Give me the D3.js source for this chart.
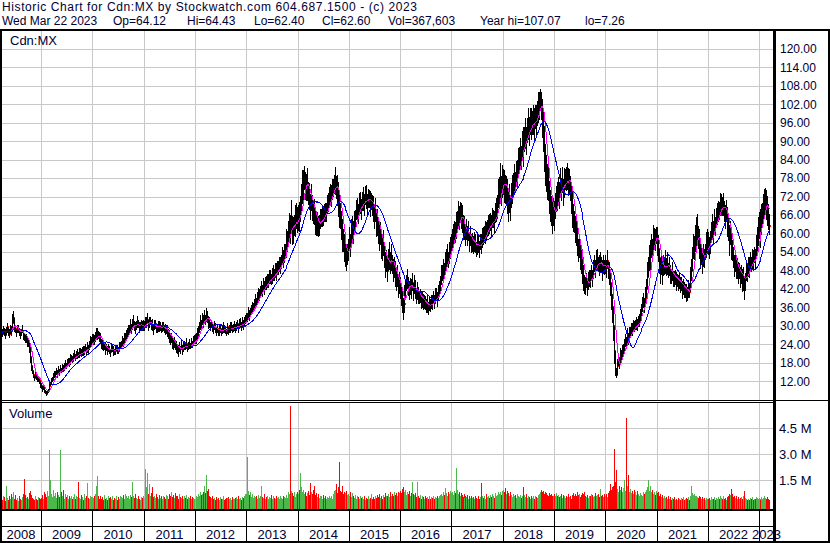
<!DOCTYPE html>
<html>
<head>
<meta charset="utf-8">
<script src="https://cdn.jsdelivr.net/npm/d3@7"></script>
<style>
  body { margin: 0; background: #fff; }
  svg { display: block; }
  text { font-family: "Liberation Sans", Arial, sans-serif; fill: #000033; }
</style>
</head>
<body>
<svg id="chart" width="830" height="543"></svg>
<script>
// weekly closes, first week ends Fri Mar 28 2008
const closes = [
  // 2008
  28.5,27.5,29,28,27,28.5,29.5,28,27.5,29,28.5,31,32.5,30,29,28,28.5,29,28,27.5,28,28.5,27,26.5,25.5,26,24.5,25,23,20,17,15.5,14,13,14.5,13.5,12.5,13,12,11,
  // 2009
  10.5,9.5,10,9,8.5,8,8.5,9,9.5,10.5,11,12,12.5,13.5,14,14.5,15,14.5,15.5,15,16,15.5,16.5,16,17,17.5,17,18,18.5,18,19,19.5,19,20,20.5,20,20.5,21,20.5,21,21.5,21,22,21.5,22,22.5,22,23,22.5,23.5,24.5,25,
  // 2010
  25.5,26,25,26.5,27,27.5,27,26.5,25.5,24.5,24,23,23.5,22.5,23,22,22.5,23,22,21.5,22.5,23,22,21.5,22,23,22.5,22,23,23.5,24,25,24.5,25.5,26.5,27,27.5,28.5,29,30,29.5,30.5,31,30,29.5,30.5,31,30.5,29.5,30,30.5,29.5,30,
  // 2011
  30,31,31.5,32,30,31,31.5,30.5,30,29,30,30.5,29.5,29,30,29.5,30,29,29.5,30,29,28.5,29,28,28.5,27.5,26.5,25.5,26,24.5,24,25,23.5,23,22.5,22,23,22.5,23.5,22.5,23,24,23.5,24,23,23.5,24,23.5,24.5,24,25,25.5,
  // 2012
  25.5,26,27,28,29.5,31,30.5,32,31.5,32.5,32,33.5,33,31.5,31,30,30.5,29.5,29,30,29,28.5,29,28,28.5,29,28,28.5,29.5,29,28.5,28,29,29.5,28.5,29,29.5,30,29,29.5,30,29,30,30.5,29.5,30.5,31,30,31,30.5,31.5,32,
  // 2013
  32.5,33,34,33.5,34.5,35,35.5,36,37,38,37.5,39,40,40.5,41,42,41.5,43,42.5,44,43.5,44.5,45,45.5,46,45,46.5,47,46.5,48,47.5,48.5,49,49.5,50,51,52.5,52,53,54,55.5,57,58,60,63,61,65,62,61,63,64,66,
  // 2014
  64,66,65,68,71,74,76,78,77,75,76,73,72,70,71,69,67,66,64,63,64.5,62,63,64,65.5,66,65,67,66.5,68,69,70.5,71,72.5,73,74,75.5,76,77,75,74,71,68,66,63,60,58,55,54,56,52,53,
  // 2015
  55,58,57,60,62,61,63,65,67,68,67,69,70,68.5,70,71,70,72,71.5,70,71,72,69.5,70.5,69,68,66,67,64,63,61,59,60,57,55,56,53,50,51,48,52,53,50.5,52,50,48,49,47,45,46,43,44,
  // 2016
  42,40,38,35,37,40,42,44,45,43,41,43,42,44,41,43,42,40,41,40,39,40,38,39,37.5,38,37,36.5,37,36,37,36.5,38,37.5,39,38,39.5,40,39,40.5,42,44,46,47,48.5,48,50,52,53,51.5,54,55,57,
  // 2017
  58,59,61,60,62,64,66,65,67,66,64,63,61,62,60,61,59.5,60,58,59,57,58,56,57.5,56,55,57,56.5,55.5,57,56,59,58.5,60,61,60,62,63,62.5,64,63,64.5,65,64,66,67,69,72,74,76,75,77,
  // 2018
  78,76,74,75,72,70,71,69,72,74,76,78,77,79,80,82,84,86,85,88,90,87,90,92,91,93,95,94,96,95,96,97,95,98,97,99,101,103,105,102,98,94,88,84,80,78,76,72,70,67,65,67,
  // 2019
  66,69,72,71,74,73,76,75,77,74,76,78,77,79,76,78,75,72,68,65,64,62,60,58,55,56,53,51,52,48,46,44,43,45,43,44,46,45,47,46,48,50,49,51,52,50,49,51,50,48,50,49,
  // 2020
  50,49,51,48,47,44,40,36,30,22,16,14,17,19,18,21,20,22,22,24,25,24.5,27,26,27.5,28,29,28.5,30,29.5,30.5,31,30,31.5,32,33,34,35,36.5,38,37,39,42,46,49,52,53,56,55,58,60,59,
  // 2021
  61,58,55,52,48,50,47,49,50,51,49,50,48,49,47,46,47.5,46,45,46,44.5,45,44,45,43,44,42,43,41.5,42,41,40.5,42,41,45,48,52,55,56,58,60,62,59,57,54,52,53,51,53,52,54,56,58,
  // 2022
  57,55,58,60,62,61,64,63,65,66,68,67,69,70,68.5,69,68,66,67,64,62,58,60,56,55,52,50,51,48,49,47,48,46,47,45,46,43,45,48,47,50,49,51,50,52,51,53,52,55,58,60,62,
  // 2023
  63,60,64,66,68,71,72,70,67,65,62.6
];

// weekly high above close, % of close
const hiPct = [
  4,6,3,5,7,4,5,3,6,4,5,9,7,4,5,3,6,4,5,3,4,6,5,4,7,5,6,4,8,9,10,8,7,9,6,8,7,5,9,8,
  9,7,8,6,9,10,8,7,9,8,6,9,7,8,10,6,8,7,9,6,8,5,7,9,6,8,5,7,6,8,9,5,7,6,8,5,6,7,5,8,6,7,5,9,6,7,5,8,6,7,9,6,
  7,5,8,6,9,7,5,6,8,5,7,6,4,8,5,6,7,4,6,5,8,4,6,5,7,4,6,5,8,6,5,7,6,8,5,6,7,6,5,7,4,6,8,5,6,4,7,5,6,4,5,7,6,
  5,6,4,7,5,6,4,5,7,4,6,5,4,6,5,7,4,5,6,4,5,7,5,4,6,5,8,6,7,5,8,6,7,9,6,8,7,5,8,6,7,5,6,8,5,6,7,4,6,5,7,6,
  7,6,8,7,6,8,5,7,6,8,5,7,6,5,6,4,5,6,4,5,7,4,5,4,6,5,4,5,6,4,5,4,6,5,4,5,6,4,5,4,5,6,4,5,4,6,5,4,6,5,4,5,
  5,4,6,5,4,5,6,4,5,6,4,5,6,4,5,6,4,6,5,4,6,5,4,6,5,4,5,6,4,5,6,5,4,6,5,4,6,5,7,5,6,8,5,7,6,8,9,6,7,5,8,6,
  7,5,8,6,7,9,6,5,4,6,7,5,6,4,7,5,6,8,5,7,4,6,5,6,4,5,6,4,5,3,5,4,6,5,4,5,3,4,6,5,7,8,9,6,7,8,6,9,7,6,8,7,
  6,7,5,8,6,5,7,4,6,5,4,6,5,4,5,6,4,5,6,4,5,3,6,4,5,6,5,7,6,8,5,7,6,8,7,9,6,8,7,9,6,8,7,9,6,8,7,9,6,8,7,8,
  9,8,10,12,9,8,7,6,8,7,9,6,8,7,6,8,7,6,8,7,6,5,7,6,8,5,7,6,8,5,7,6,5,7,6,5,7,6,5,7,6,5,8,6,7,5,8,6,7,5,6,7,5,
  6,7,5,6,8,5,7,6,5,6,8,5,7,6,4,6,5,7,4,6,5,4,6,5,7,4,5,6,4,5,7,5,6,4,5,6,4,5,6,4,5,6,4,5,6,7,5,8,6,9,5,7,
  4,6,7,5,8,6,7,5,6,7,5,6,4,6,5,7,5,6,4,6,5,7,5,6,4,5,6,4,5,6,4,5,6,4,5,4,5,3,2,4,6,7,8,6,7,6,8,7,6,8,9,7,
  7,6,5,8,6,5,7,4,6,5,7,4,6,5,7,4,5,6,8,7,5,6,7,8,6,7,8,9,6,7,8,6,7,5,6,8,5,7,6,5,7,6,5,7,6,5,8,6,5,7,6,5,
  6,5,7,6,8,9,10,12,15,18,20,16,14,12,10,9,11,8,9,7,10,8,9,7,8,6,7,8,6,7,5,6,7,5,6,8,7,6,8,7,6,9,8,10,7,8,9,7,6,8,3,4,
  2,7,8,6,7,9,6,8,5,7,6,8,5,7,6,5,7,4,6,5,7,4,6,5,7,4,6,5,7,4,6,5,7,6,9,8,7,9,6,8,9,7,6,8,5,7,6,5,7,6,5,8,6,
  6,7,5,6,7,5,6,4,5,6,4,5,6,4,5,6,4,5,6,7,6,8,7,6,5,7,6,5,7,6,8,5,7,6,8,7,6,5,7,6,5,7,6,5,6,7,5,6,8,7,9,8,
  8,7,9,6,7,5,4,6,8,7,6
];

// weekly low below close, % of close
const loPct = [
  5,4,6,4,5,3,6,4,5,3,6,4,5,7,4,6,3,5,4,6,5,3,6,5,4,6,5,7,8,10,9,8,7,6,9,8,7,9,8,10,
  8,10,7,9,8,9,9,8,7,9,6,8,7,9,6,8,7,9,6,8,7,5,8,6,9,7,5,8,6,7,9,5,6,8,5,7,6,8,5,7,6,5,8,6,7,5,6,8,7,5,6,7,
  6,8,5,7,6,8,5,7,6,8,7,5,6,8,5,7,4,6,5,7,4,6,8,5,6,4,7,5,6,4,5,7,6,5,4,6,5,7,6,5,7,6,4,5,7,6,5,4,6,5,7,4,6,
  6,5,7,4,6,5,4,6,5,7,4,5,6,4,7,5,6,4,5,6,4,5,6,5,7,6,8,7,6,8,7,9,6,8,7,9,6,7,5,8,6,7,5,6,7,5,6,4,7,5,6,5,
  6,7,5,8,6,7,6,5,7,6,5,7,6,8,5,6,4,5,6,4,5,6,4,5,6,4,5,4,6,5,4,5,6,4,5,4,6,5,4,5,6,4,5,4,6,5,4,5,4,6,5,4,
  4,5,4,6,5,4,5,4,6,5,4,5,4,6,5,4,5,4,6,5,4,5,6,4,5,4,6,5,4,5,6,4,5,4,6,5,4,6,5,4,6,5,7,6,8,7,6,9,7,6,8,7,
  6,8,7,6,5,6,7,5,8,6,7,5,6,8,5,7,6,5,7,6,8,5,6,4,5,6,4,5,4,6,4,5,4,5,6,4,5,4,6,5,7,8,9,7,8,10,7,8,9,7,8,6,
  7,6,8,5,6,7,5,6,4,5,6,4,5,6,4,5,6,4,5,6,4,5,6,4,5,6,7,5,8,6,7,8,6,9,7,6,8,9,7,8,6,9,7,8,6,8,7,9,8,7,9,8,
  8,9,10,9,8,7,8,6,7,8,6,7,8,6,7,6,8,7,6,7,5,6,7,8,6,7,5,6,8,7,6,5,7,6,5,7,6,5,7,6,5,7,6,5,7,6,5,7,6,5,7,6,5,
  5,6,7,5,6,5,7,6,5,7,6,8,5,6,7,5,6,4,7,5,6,7,5,6,4,5,7,5,6,4,5,6,4,5,7,4,5,6,4,5,6,4,5,6,4,5,6,5,7,6,8,7,
  7,8,6,7,8,9,6,7,5,6,5,6,5,4,6,5,4,6,5,4,5,6,4,5,6,4,5,6,4,5,4,5,6,4,5,4,5,6,4,5,7,8,9,10,8,9,7,8,9,7,8,7,
  8,6,7,5,6,7,5,6,5,7,6,5,4,6,5,7,6,8,9,7,6,8,7,9,8,7,9,8,7,9,10,8,7,6,8,5,7,6,5,7,6,5,7,6,8,5,6,7,5,7,6,5,
  6,7,5,6,8,10,12,14,16,20,15,7,12,10,11,9,10,8,9,10,8,7,9,8,6,7,8,6,7,5,6,7,5,6,7,5,6,7,5,6,8,6,7,5,6,8,9,7,8,6,9,8,
  7,9,8,10,9,7,8,6,7,8,6,7,5,6,7,5,6,7,5,6,7,5,6,7,5,6,8,7,6,7,8,6,7,5,6,7,5,6,8,7,9,8,7,9,8,7,6,8,7,6,5,7,6,
  7,6,8,5,6,7,5,6,4,5,6,4,5,6,4,5,6,7,5,8,7,9,6,8,7,6,8,7,6,8,7,6,8,7,9,10,11,8,7,6,8,7,6,5,7,6,5,7,6,8,7,6,
  6,8,7,5,6,7,6,8,7,6,5
];

// weekly volume, in 10,000 shares
const volumes = [
  45,38,60,52,30,120,48,35,62,40,70,55,80,42,66,38,50,30,58,44,36,52,70,160,65,48,55,40,75,90,68,50,45,38,60,42,35,55,48,40,
  50,65,45,80,70,55,90,60,85,325,150,70,55,95,60,75,50,85,65,55,325,80,60,95,45,70,55,65,40,58,48,62,40,55,70,45,60,52,140,50,42,65,55,38,70,48,60,135,50,44,62,55,
  55,48,62,70,120,175,60,45,58,40,52,38,65,44,50,36,58,42,48,55,40,62,35,50,45,58,38,52,44,60,55,48,65,42,70,58,50,62,45,68,55,140,60,48,72,50,42,58,45,38,55,48,60,
  48,215,110,190,70,130,60,75,110,55,62,48,70,55,42,65,50,58,44,60,52,40,65,48,58,45,72,60,85,55,68,50,75,58,62,45,70,52,48,60,44,58,50,65,42,55,48,62,40,56,50,45,
  45,60,52,70,58,80,65,72,85,120,75,180,90,100,62,55,48,60,42,50,38,55,44,48,36,52,40,45,58,38,42,50,35,48,55,40,46,38,52,44,40,48,55,42,60,45,50,38,56,48,62,70,
  70,285,90,65,80,55,72,48,60,52,58,45,66,50,62,120,55,48,70,45,52,60,42,55,48,65,40,58,50,45,62,48,55,40,58,50,45,60,52,48,55,65,48,80,70,580,90,75,62,85,55,70,
  85,70,95,190,110,80,95,70,85,62,75,90,68,135,80,72,95,120,65,78,55,70,48,62,58,45,66,50,60,42,55,48,62,50,58,45,70,88,95,130,75,110,255,90,80,120,70,85,60,75,90,65,
  70,60,85,55,75,62,50,68,45,58,52,40,62,48,55,42,60,38,50,45,58,42,50,70,45,55,40,62,48,66,55,72,50,60,45,68,52,75,58,62,70,55,80,60,72,58,85,65,78,60,82,75,
  90,75,100,110,85,70,95,65,80,72,88,60,75,140,70,65,78,55,140,62,50,68,45,58,52,40,62,48,55,44,60,42,52,48,58,40,55,46,62,50,58,65,72,60,80,68,105,75,62,85,70,90,78,
  80,65,90,75,220,95,70,85,60,78,65,55,72,48,60,52,66,45,58,50,62,48,55,42,60,50,45,58,40,55,135,62,50,58,45,70,52,60,48,65,55,70,60,48,75,58,65,80,70,85,68,90,
  95,80,105,70,88,75,62,80,68,55,70,58,65,50,72,60,55,68,48,62,58,110,65,52,70,48,60,55,45,62,50,58,45,62,55,48,65,72,80,95,85,90,70,82,75,68,60,78,65,72,58,62,
  70,62,75,58,68,55,60,72,50,65,58,48,62,55,70,52,60,45,68,75,62,70,58,80,65,72,55,68,60,75,70,82,60,55,68,50,62,58,72,65,55,62,78,58,65,70,52,100,60,68,55,72,
  62,70,55,75,90,130,95,110,120,330,140,210,100,85,120,95,110,80,105,150,90,510,120,180,85,100,75,90,70,95,80,65,88,70,60,75,55,68,62,80,70,85,95,110,150,90,120,80,95,70,85,65,
  90,75,85,60,70,55,65,50,62,48,55,45,58,40,52,38,48,42,55,35,45,38,50,42,35,48,40,52,38,45,50,42,55,38,60,120,75,65,70,58,62,55,48,60,45,52,40,55,42,48,38,50,45,
  42,50,38,55,45,40,52,35,48,42,55,40,62,48,45,58,42,50,38,55,60,72,65,100,70,55,62,48,58,45,52,40,48,55,42,60,90,50,45,38,42,35,48,40,52,38,45,42,55,48,40,50,
  45,38,55,42,50,60,48,40,52,45,37
];

const years = [2008,2009,2010,2011,2012,2013,2014,2015,2016,2017,2018,2019,2020,2021,2022,2023];
const priceTicks = [12,18,24,30,36,42,48,54,60,66,72,78,84,90,96,102,108,114,120];
const volTicks = [1.5, 3.0, 4.5]; // millions
const titleText = "Historic Chart for Cdn:MX by Stockwatch.com 604.687.1500 - (c) 2023";
const quoteItems = ["Wed Mar 22 2023", "Op=64.12", "Hi=64.43", "Lo=62.40", "Cl=62.60", "Vol=367,603", "Year hi=107.07", "lo=7.26"];
const symbol = "Cdn:MX";

const svg = d3.select("#chart");
const W = 830, H = 543;
const plotRight = 773;

const x = d3.scaleTime()
  .domain([new Date(2009, 0, 1), new Date(2023, 0, 1)])
  .range([41, 759.3]);
const yP = d3.scaleLinear().domain([12, 120]).range([381.3, 48.9]);
const yV = d3.scaleLinear().domain([0, 4.5e6]).range([506.3, 428.3]);

const start = new Date(2008, 2, 28);
const weeks = closes.map((c, i) => {
  const open = i ? closes[i - 1] : c;
  return {
    date: d3.timeDay.offset(start, 7 * i),
    close: c,
    open,
    hi: Math.max(c * (1 + (hiPct[i] ?? 5) / 100), open),
    lo: Math.min(c * (1 - (loPct[i] ?? 5) / 100), open),
    vol: (volumes[i] ?? 30) * 1e4
  };
});
const px = d => Math.floor(x(d.date));

svg.append("rect").attr("width", W).attr("height", H).attr("fill", "#fff");

// grid
const grid = svg.append("g").attr("stroke", "#c8c8c8").attr("shape-rendering", "crispEdges");
priceTicks.forEach(t => {
  const yy = Math.round(yP(t)) + 0.5;
  grid.append("line").attr("x1", 2).attr("x2", plotRight).attr("y1", yy).attr("y2", yy);
});
volTicks.forEach(t => {
  const yy = Math.round(yV(t * 1e6)) + 0.5;
  grid.append("line").attr("x1", 2).attr("x2", plotRight).attr("y1", yy).attr("y2", yy);
});
const yearX = years.slice(1).map(y => Math.round(x(new Date(y, 0, 1))));
yearX.forEach(xx => {
  grid.append("line").attr("x1", xx + 0.5).attr("x2", xx + 0.5).attr("y1", 31).attr("y2", 400);
  grid.append("line").attr("x1", xx + 0.5).attr("x2", xx + 0.5).attr("y1", 403).attr("y2", 509);
});

// price bars, close tick to the right
const bars = svg.append("g").attr("shape-rendering", "crispEdges");
weeks.forEach(d => {
  const top = Math.round(yP(d.hi)), bot = Math.round(yP(d.lo));
  bars.append("rect").attr("x", px(d)).attr("y", top).attr("width", 1)
    .attr("height", Math.max(1, bot - top)).attr("fill", "#000");
  bars.append("rect").attr("x", px(d) + 1).attr("y", Math.round(yP(d.close)) - 1)
    .attr("width", 1).attr("height", 2).attr("fill", "#ff0000");
});

// moving averages
const sma = n => closes.map((_, i) => d3.mean(closes.slice(Math.max(0, i - n + 1), i + 1)));
const maLine = d3.line().x((d, i) => px(weeks[i]) + 0.5).y(d => yP(d));
svg.append("path").datum(sma(6)).attr("d", maLine)
  .attr("fill", "none").attr("stroke", "#ff00ff").attr("stroke-width", 1).attr("shape-rendering", "crispEdges");
svg.append("path").datum(sma(20)).attr("d", maLine)
  .attr("fill", "none").attr("stroke", "#0000ff").attr("stroke-width", 1).attr("shape-rendering", "crispEdges");

// volume bars
const vbars = svg.append("g").attr("shape-rendering", "crispEdges");
weeks.forEach(d => {
  const top = Math.round(yV(d.vol));
  const col = d.close > d.open ? "#4cb84c" : d.close < d.open ? "#ff0000" : "#a8a8a8";
  vbars.append("rect").attr("x", px(d)).attr("y", top).attr("width", 1)
    .attr("height", 509 - top).attr("fill", col);
});

// texts
svg.append("text").attr("x", 2).attr("y", 11.2).attr("font-size", 12)
  .attr("textLength", 415).attr("lengthAdjust", "spacing").text(titleText);
const quoteX = [2, 113, 187, 254, 322, 388, 480, 585];
quoteItems.forEach((s, i) => {
  svg.append("text").attr("x", quoteX[i]).attr("y", 24.6).attr("font-size", 12).text(s);
});
svg.append("text").attr("x", 10).attr("y", 45).attr("font-size", 13).text(symbol);
svg.append("text").attr("x", 9).attr("y", 417.5).attr("font-size", 13).text("Volume");

priceTicks.forEach(t => {
  svg.append("text").attr("x", 780).attr("y", yP(t)).attr("dy", "0.36em")
    .attr("font-size", 12).text(t.toFixed(2));
});
volTicks.forEach(t => {
  svg.append("text").attr("x", 779).attr("y", yV(t * 1e6)).attr("dy", "0.36em")
    .attr("font-size", 13).text(t.toFixed(1) + " M");
});

const edges = [1, ...yearX, 774];
years.forEach((y, i) => {
  svg.append("text").attr("x", (edges[i] + edges[i + 1]) / 2).attr("y", 539)
    .attr("text-anchor", "middle").attr("font-size", 13).text(y);
});

// frame
const frame = svg.append("g").attr("fill", "#000").attr("shape-rendering", "crispEdges");
const box = (x0, y0, w, h) => frame.append("rect").attr("x", x0).attr("y", y0).attr("width", w).attr("height", h);
box(0, 29, W, 2);
box(0, 29, 2, H - 29);
box(828, 29, 2, H - 29);
box(773, 29, 3, H - 29);
box(0, 400, W, 1);
box(0, 402, plotRight, 1);
box(0, 509, plotRight, 2);
box(0, 526, plotRight, 1);
box(0, 541, W, 2);
yearX.forEach(xx => box(xx, 511, 1, 30));
</script>
</body>
</html>
